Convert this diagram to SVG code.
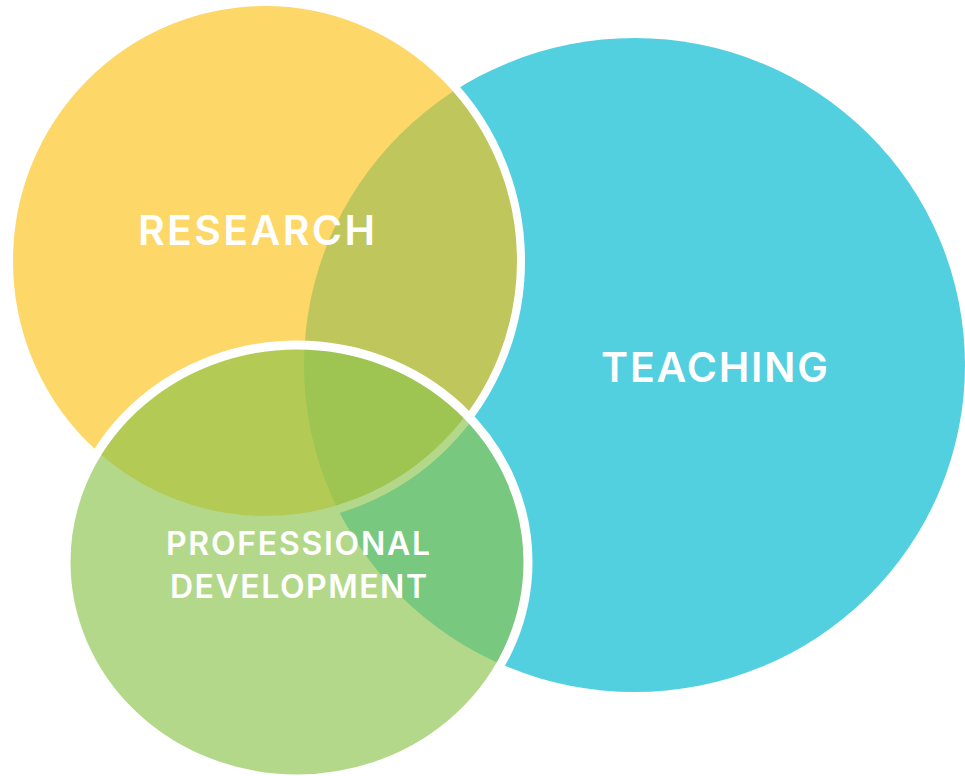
<svg xmlns="http://www.w3.org/2000/svg" width="965" height="776" viewBox="0 0 965 776">
<style>
.lbl{font-family:Inter,"Liberation Sans",sans-serif;font-weight:600;fill:#ffffff}
.big{font-size:41px}
.small{font-size:32px}
</style>
<rect width="965" height="776" fill="#ffffff"/>
<g id="teaching">
<ellipse cx="634.5" cy="365" rx="330.5" ry="327" fill="#52D0E0"/>
</g>
<g id="research">
<ellipse cx="265" cy="261" rx="256" ry="259" fill="#FCC00F" fill-opacity="0.636" stroke="#ffffff" stroke-width="8"/>
</g>
<g id="professional-development">
<ellipse cx="297" cy="562" rx="231" ry="217" fill="#8CC34D" fill-opacity="0.653" stroke="#ffffff" stroke-width="9"/>
</g>
<g id="connectors"></g>
<g id="labels">
<text class="lbl big" x="138" y="245" textLength="237" lengthAdjust="spacing">RESEARCH</text>
<text class="lbl big" x="601" y="382" textLength="227" lengthAdjust="spacing">TEACHING</text>
<text class="lbl small" x="166" y="555" textLength="264" lengthAdjust="spacing">PROFESSIONAL</text>
<text class="lbl small" x="170" y="598" textLength="257" lengthAdjust="spacing">DEVELOPMENT</text>
</g>
</svg>
